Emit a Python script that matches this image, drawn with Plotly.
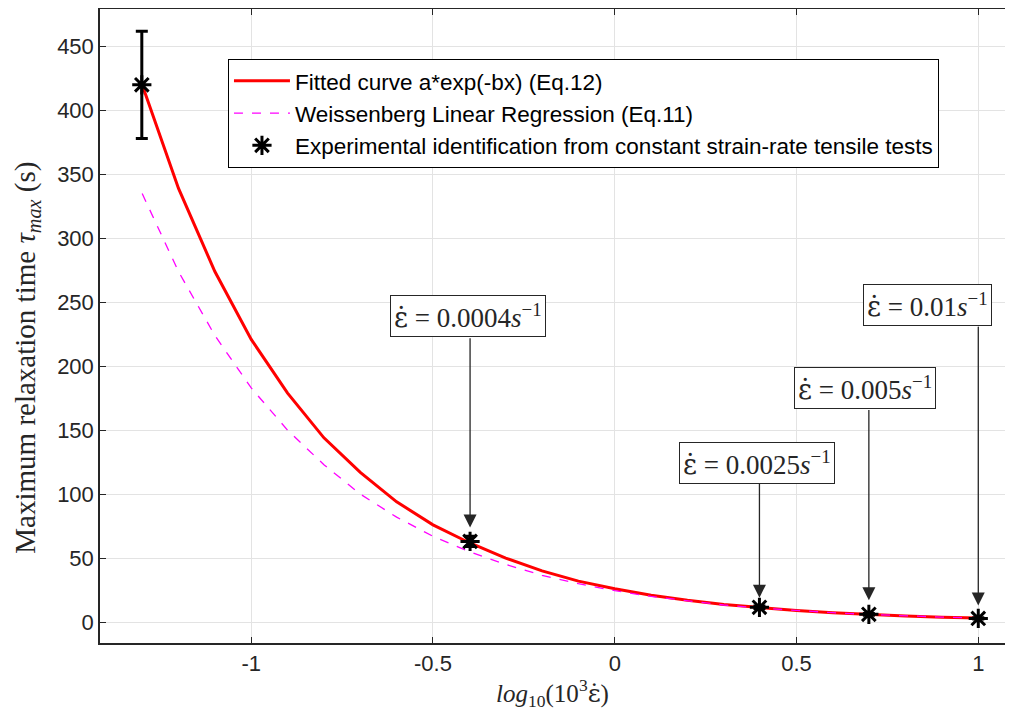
import plotly.graph_objects as go

# log10(10^3 * strain rate) grid used for the curves
x_curve = [-1.3, -1.2, -1.1, -1.0, -0.9, -0.8, -0.7, -0.6, -0.5, -0.4, -0.3, -0.2,
           -0.1, 0.0, 0.1, 0.2, 0.3, 0.4, 0.5, 0.6, 0.7, 0.8, 0.9, 1.0]
fitted = [420, 339, 274, 221, 179, 144, 117, 94, 76, 62, 50, 40,
          32, 26, 21, 17, 13.7, 11.1, 9.0, 7.2, 5.8, 4.7, 3.8, 3.1]
weissenberg = [335, 274, 224, 183, 150, 123, 100, 82, 67, 55, 45, 36.5,
               30, 24.5, 20, 16.4, 13.3, 10.9, 8.9, 7.3, 5.9, 4.8, 3.9, 3.2]

# experimental points
x_exp = [-1.301, -0.398, 0.398, 0.699, 1.0]
y_exp = [420, 63, 11.5, 6, 2.8]
err_exp = [42, 4, 1, 0.7, 0.5]

# annotation labels
rate_labels = ["0.0004", "0.0025", "0.005", "0.01"]
label_x = [-0.404, 0.391, 0.688, 0.861]
label_y = [239.5, 124.6, 183, 248]
arrow_x = [-0.398, 0.398, 0.699, 1.0]
arrow_from = [223, 109, 167, 232]
arrow_to = [74, 19, 17, 13]

ink = "#262626"
eps_dot = '<span style="font-family:DejaVu Serif">ε̇</span>'

fig = go.Figure()
fig.add_trace(go.Scatter(x=x_curve, y=fitted, mode="lines",
                         line=dict(color="#ff0000", width=3),
                         name="Fitted curve a*exp(-bx) (Eq.12)"))
fig.add_trace(go.Scatter(x=x_curve, y=weissenberg, mode="lines",
                         line=dict(color="#ff00ff", width=1.3, dash="dash"),
                         name="Weissenberg Linear Regression (Eq.11)"))
fig.add_trace(go.Scatter(x=x_exp, y=y_exp, mode="markers",
                         marker=dict(symbol="asterisk-open", size=16, color="black",
                                     line=dict(color="black", width=3)),
                         error_y=dict(type="data", array=err_exp, color="black",
                                      thickness=3, width=6),
                         name="Experimental identification from constant strain-rate tensile tests"))

for lx, ly, lab in zip(label_x, label_y, rate_labels):
    fig.add_annotation(x=lx, y=ly, xref="x", yref="y", showarrow=False,
                       text=eps_dot + " = " + lab + "<i>s</i><sup>−1</sup>",
                       font=dict(family="Liberation Serif", size=27, color=ink),
                       bordercolor=ink, borderwidth=1, borderpad=3, bgcolor="white")
for axx, a0, a1 in zip(arrow_x, arrow_from, arrow_to):
    fig.add_annotation(x=axx, y=a1, ax=axx, ay=a0, xref="x", yref="y",
                       axref="x", ayref="y", text="", showarrow=True,
                       arrowhead=2, arrowsize=2, arrowwidth=1.3,
                       arrowcolor=ink, standoff=0)

# y-axis label placed by hand (MATLAB centres it a bit lower than plotly would)
fig.add_annotation(x=-0.0807, y=0.45, xref="paper", yref="paper",
                   xanchor="center", yanchor="middle", textangle=-90, showarrow=False,
                   text="Maximum relaxation time <i>τ<sub>max</sub></i> (s)",
                   font=dict(family="Liberation Serif", size=29, color=ink))

fig.update_xaxes(
    range=[-1.416, 1.0735], tickvals=[-1, -0.5, 0, 0.5, 1],
    ticktext=["-1", "-0.5", "0", "0.5", "1"],
    showgrid=True, gridcolor="#e3e3e3", zeroline=False,
    showline=True, linecolor=ink, linewidth=1.5, mirror="ticks",
    ticks="inside", ticklen=6, tickcolor=ink, automargin=False,
    tickfont=dict(family="Liberation Sans", size=22, color=ink),
    title=dict(text="<i>log</i><sub>10</sub>(10<sup>3</sup>" + eps_dot + ")",
               font=dict(family="Liberation Serif", size=25, color=ink), standoff=6),
)
fig.update_yaxes(
    range=[-16.4, 479.3], tickvals=list(range(0, 451, 50)),
    showgrid=True, gridcolor="#e3e3e3", zeroline=False,
    showline=True, linecolor=ink, linewidth=1.5, mirror=False,
    ticks="inside", ticklen=6, tickcolor=ink, automargin=False,
    tickfont=dict(family="Liberation Sans", size=22, color=ink),
)
fig.update_layout(
    width=997, height=703,
    template="plotly_white",
    plot_bgcolor="white", paper_bgcolor="white",
    margin=dict(l=92, r=0, t=1, b=68),
    legend=dict(x=0.1414, y=0.9216, xanchor="left", yanchor="top",
                bordercolor="black", borderwidth=1, bgcolor="white",
                font=dict(family="Liberation Sans", size=22.5, color="black"),
                itemwidth=56),
    showlegend=True,
)
fig.write_html("out.html")
